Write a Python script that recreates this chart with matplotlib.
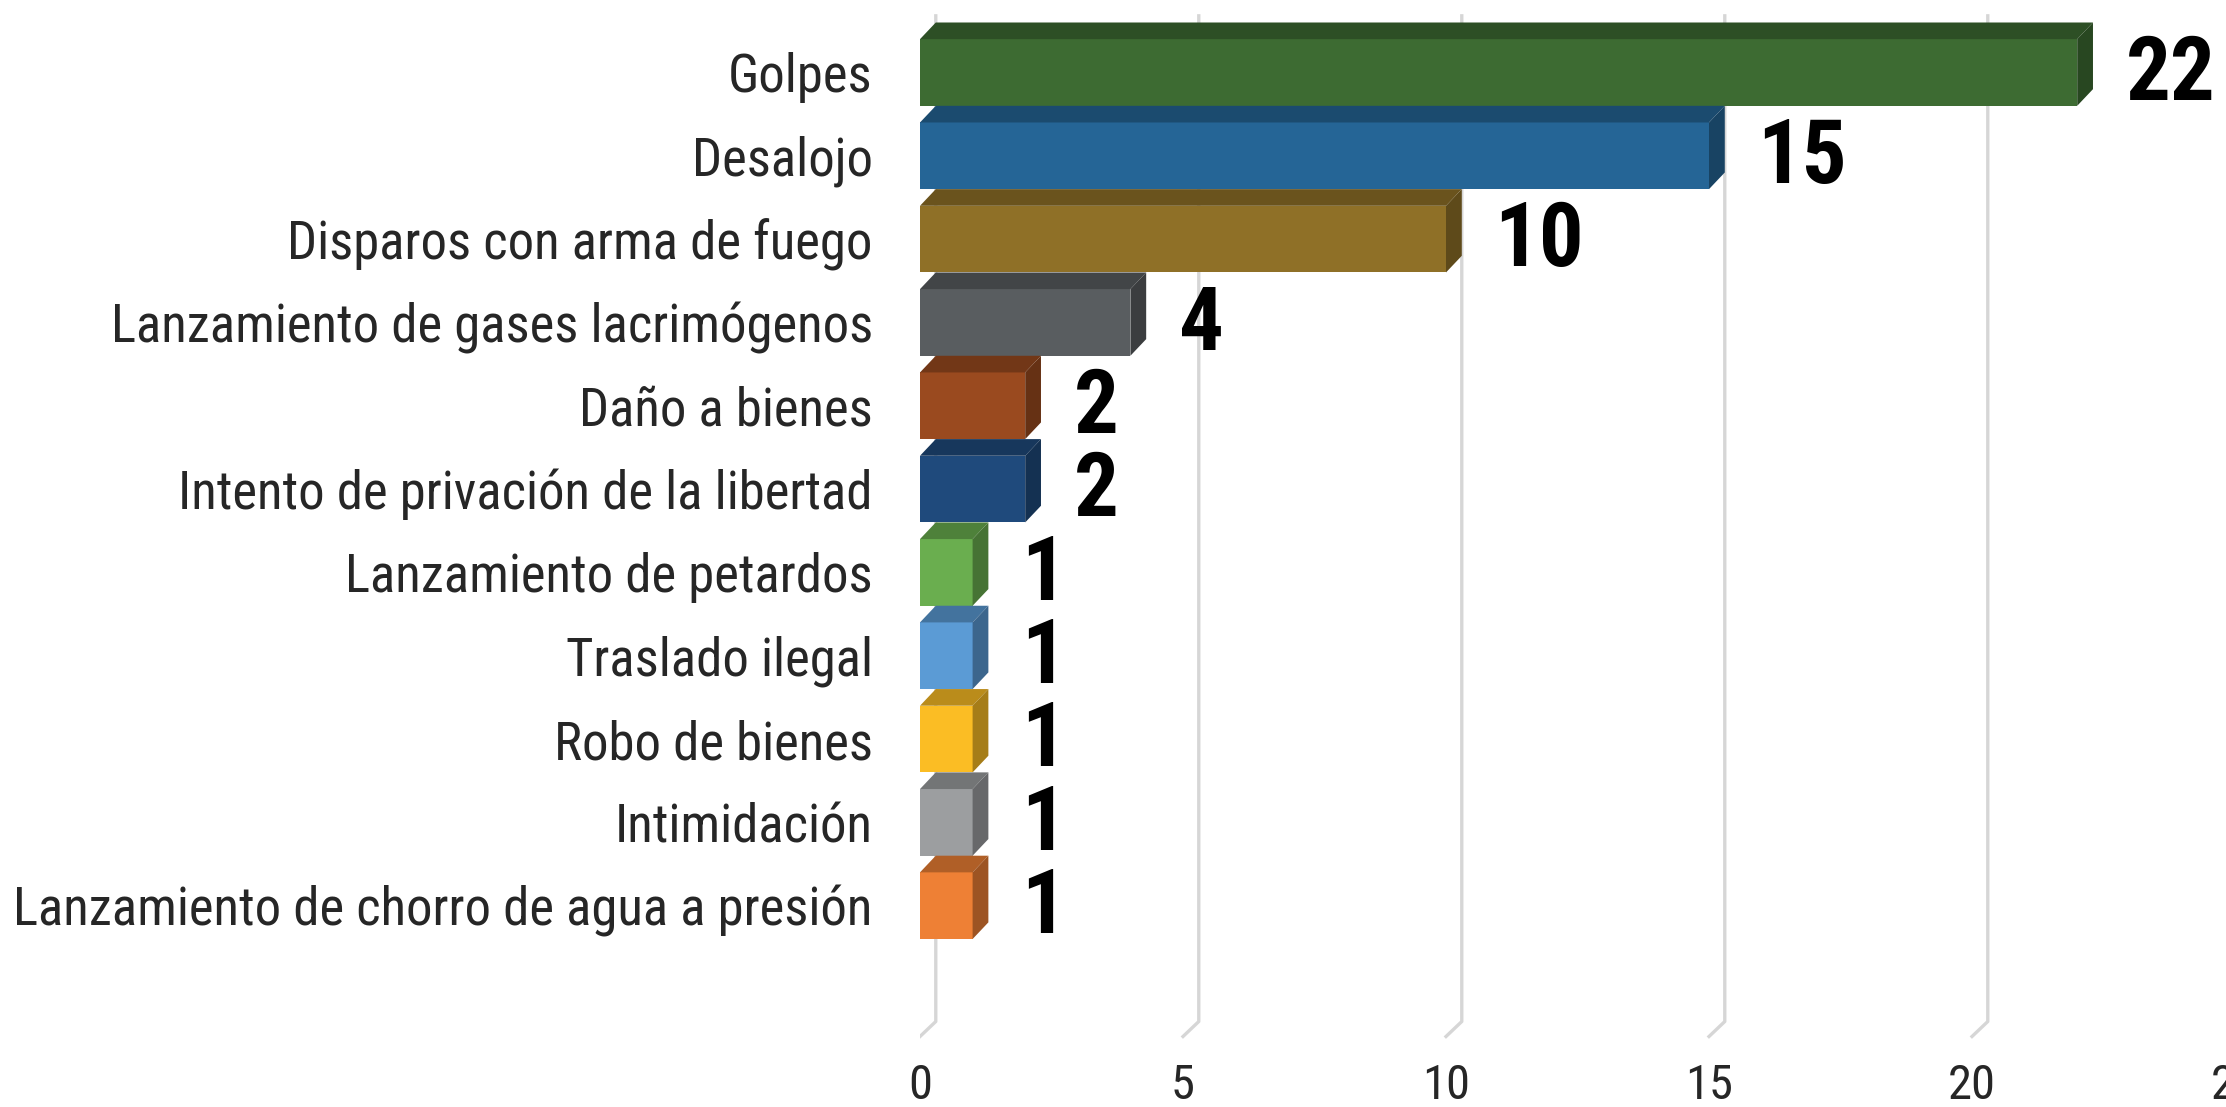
import matplotlib
matplotlib.use("Agg")
import matplotlib.pyplot as plt
import matplotlib.colors as mcolors
from matplotlib import font_manager
from matplotlib.font_manager import FontProperties
from matplotlib.patches import Polygon

categories = [
    "Golpes",
    "Desalojo",
    "Disparos con arma de fuego",
    "Lanzamiento de gases lacrimógenos",
    "Daño a bienes",
    "Intento de privación de la libertad",
    "Lanzamiento de petardos",
    "Traslado ilegal",
    "Robo de bienes",
    "Intimidación",
    "Lanzamiento de chorro de agua a presión",
]
values = [22, 15, 10, 4, 2, 2, 1, 1, 1, 1, 1]
bar_colors = [
    "#3d6b32", "#256596", "#8f7027", "#595d60", "#9a4a1f", "#1f4a7c",
    "#6aae4f", "#5b9bd5", "#fbbd24", "#9c9ea0", "#ee8035",
]
x_ticks = [0, 5, 10, 15, 20, 25]

# 3D look: depth offsets in data units
DX, DY = 0.3, 0.2
BAR_H = 0.8

PREFERRED = ["Liberation Sans Narrow", "Roboto Condensed", "Open Sans Condensed",
             "Noto Sans Condensed", "Noto Sans SemiCondensed", "DejaVu Sans Condensed"]


def pick_condensed(bold):
    found = []
    for f in font_manager.fontManager.ttflist:
        narrow = ("Narrow" in f.name or "Condensed" in f.name
                  or f.stretch in ("condensed", "semi-condensed", 500, 600))
        if not narrow or "Extra" in f.name or f.style != "normal":
            continue
        w = f.weight if isinstance(f.weight, int) else (700 if f.weight == "bold" else 400)
        if (bold and w == 700) or (not bold and w == 400):
            found.append(f)
    if not found:
        return None
    found.sort(key=lambda f: PREFERRED.index(f.name) if f.name in PREFERRED else 99)
    return FontProperties(fname=found[0].fname)


label_fp = pick_condensed(False) or FontProperties(family="Open Sans")
value_fp = pick_condensed(True) or FontProperties(family="Roboto", weight="bold")


def shade(c, k):
    r, g, b = mcolors.to_rgb(c)
    return (r * k, g * k, b * k)


W, H = 2226, 1107
fig = plt.figure(figsize=(W / 100, H / 100), dpi=100)
ax = fig.add_axes([920 / W, 1 - 1039 / H, 1315 / W, (1039 - 10) / H])
ax.set_xlim(0, 25)
ax.set_ylim(11.6, -0.75)

# gridlines on the back wall with the small floor kink
for t in x_ticks:
    ax.plot([t + DX, t + DX, t], [-0.68, 11.39, 11.57], color="#d6d6d6", lw=2.4, zorder=1)

value_texts = []
for i, (v, c) in enumerate(zip(values, bar_colors)):
    top = i - BAR_H / 2
    bot = i + BAR_H / 2
    ax.barh(i, v, height=BAR_H, color=c, zorder=3)
    ax.add_patch(Polygon([(0, top), (v, top), (v + DX, top - DY), (DX, top - DY)],
                         closed=True, color=shade(c, 0.74), zorder=3, lw=0))
    ax.add_patch(Polygon([(v, top), (v + DX, top - DY), (v + DX, bot - DY), (v, bot)],
                         closed=True, color=shade(c, 0.66), zorder=3, lw=0))
    vp = value_fp.copy()
    vp.set_size(60)
    t = ax.annotate(str(v), xy=(v, i), xytext=(35, -2), textcoords="offset points",
                    ha="left", va="center", fontproperties=vp, color="black")
    value_texts.append(t)

ax.set_yticks(range(len(categories)))
ax.set_yticklabels(categories, fontproperties=label_fp, color="#262626")
ax.set_xticks(x_ticks)
ax.set_xticklabels([str(t) for t in x_ticks], fontproperties=label_fp, color="#262626")
ax.tick_params(axis="y", length=0, pad=34)
ax.tick_params(axis="x", length=0, pad=17)
for s in ax.spines.values():
    s.set_visible(False)

# fit label size so the longest category spans about 861 px as in the reference
fs = 40
for lab in ax.get_yticklabels() + ax.get_xticklabels():
    lab.set_fontsize(fs)
fig.canvas.draw()
r = fig.canvas.get_renderer()
widest = max(lab.get_window_extent(r).width for lab in ax.get_yticklabels())
fs = min(fs * 861 / widest, 42)
for lab in ax.get_yticklabels():
    lab.set_fontsize(fs)
for lab in ax.get_xticklabels():
    lab.set_fontsize(fs * 0.92)

# value labels: "22" is about 90 px wide in the reference
w22 = value_texts[0].get_window_extent(r).width
vs = min(60 * 90 / w22, 64)
for t in value_texts:
    t.set_fontsize(vs)

fig.savefig("out.png", dpi=100)
